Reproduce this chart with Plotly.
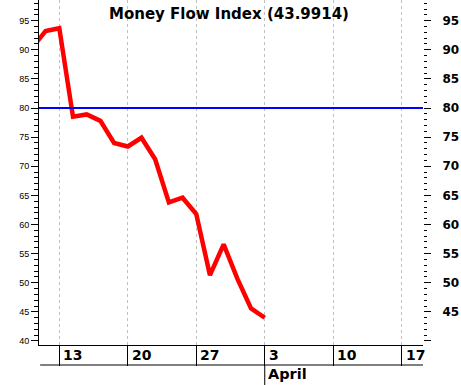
import plotly.graph_objects as go

# ---- data ----
dates = ["2017-03-09", "2017-03-10", "2017-03-13", "2017-03-14", "2017-03-15",
         "2017-03-16", "2017-03-17", "2017-03-20", "2017-03-21", "2017-03-22",
         "2017-03-23", "2017-03-24", "2017-03-27", "2017-03-28", "2017-03-29",
         "2017-03-30", "2017-03-31", "2017-04-03"]
mfi = [90.3, 93.2, 93.7, 78.5, 78.9, 77.8, 74.0, 73.4, 74.9, 71.2,
       63.8, 64.6, 61.8, 51.3, 56.6, 50.7, 45.6, 43.9914]
week_ticks = ["2017-03-13", "2017-03-20", "2017-03-27", "2017-04-03",
              "2017-04-10", "2017-04-17"]
week_labels = ["13", "20", "27", "3", "10", "17"]
month_ticks = ["2017-04-03"]
month_labels = ["April"]
right_tickvals = [40, 45, 50, 55, 60, 65, 70, 75, 80, 85, 90, 95]
right_ticktext = ["", "45", "50", "55", "60", "65", "70", "75", "80", "85", "90", "95"]
level = 80
title_text = "Money Flow Index (43.9914)"

W, H = 461, 385
ML, MR, MT, MB = 39, 38, 0, 40
PH = H - MT - MB
yr = [39.31, 98.55]

fig = go.Figure()
# invisible copy on the right axis so that the axis is drawn
fig.add_trace(go.Scatter(x=dates, y=mfi, mode="lines", yaxis="y2",
                         line=dict(color="rgba(0,0,0,0)", width=0),
                         showlegend=False, hoverinfo="skip"))
fig.add_trace(go.Scatter(x=dates, y=mfi, mode="lines",
                         line=dict(color="#ff0000", width=4.5),
                         showlegend=False, hoverinfo="skip"))

fig.add_hline(y=level, line=dict(color="#0000ff", width=2))

bold = dict(family="DejaVu Sans", color="black")

# title
fig.add_annotation(text="<b>" + title_text + "</b>", xref="paper", yref="paper",
                   x=(229 - ML) / (W - ML - MR), y=1 - 14 / PH,
                   xanchor="center", yanchor="middle", showarrow=False,
                   font=dict(size=15, **bold))

# week labels
for d, t in zip(week_ticks, week_labels):
    fig.add_annotation(text="<b>" + t + "</b>", xref="x", yref="paper",
                       x=d, y=-10 / PH, xanchor="left", yanchor="middle",
                       xshift=2, showarrow=False, font=dict(size=14, **bold))

# second axis row line
fig.add_shape(type="line", xref="paper", yref="paper", x0=0.003, x1=1,
              y0=-20 / PH, y1=-20 / PH, line=dict(color="black", width=1))
for d, t in zip(month_ticks, month_labels):
    fig.add_shape(type="line", xref="x", yref="paper", x0=d, x1=d,
                  y0=-20 / PH, y1=-41 / PH, line=dict(color="black", width=1))
    fig.add_annotation(text="<b>" + t + "</b>", xref="x", yref="paper",
                       x=d, y=-29 / PH, xanchor="left", yanchor="middle",
                       xshift=1, showarrow=False, font=dict(size=14.5, **bold))

fig.update_layout(
    width=W, height=H,
    margin=dict(l=ML, r=MR, t=MT, b=MB, pad=0),
    paper_bgcolor="white", plot_bgcolor="white",
    xaxis=dict(type="date", range=["2017-03-09 12:26", "2017-04-18 13:19"],
               rangebreaks=[dict(bounds=["sat", "mon"])],
               tickvals=week_ticks, showticklabels=False,
               ticks="outside", ticklen=20, tickcolor="black", tickwidth=1,
               showgrid=True, gridcolor="#c0c0c0", griddash="3px,3px", gridwidth=1,
               showline=True, linecolor="black", linewidth=1, zeroline=False),
    yaxis=dict(range=yr, tickmode="linear", tick0=40, dtick=5,
               ticks="outside", ticklen=7, tickcolor="black",
               minor=dict(ticks="outside", ticklen=4, dtick=1, tick0=40,
                          tickcolor="black", showgrid=False),
               showgrid=False, zeroline=False,
               showline=True, linecolor="black", linewidth=1,
               tickfont=dict(family="Liberation Sans", size=9, color="black")),
    yaxis2=dict(range=yr, overlaying="y", side="right",
                tickvals=right_tickvals, ticktext=right_ticktext,
                ticks="outside", ticklen=7, tickcolor="black",
                minor=dict(ticks="outside", ticklen=3, dtick=1, tick0=40,
                           tickcolor="black", showgrid=False),
                showgrid=False, zeroline=False, showline=False,
                ticklabelstandoff=9,
                tickfont=dict(family="DejaVu Sans", size=12, color="black",
                              weight="bold")),
)

fig.write_html("out.html", config={"displayModeBar": False},
               post_script="document.body.style.margin='0';document.body.style.overflow='hidden';")
